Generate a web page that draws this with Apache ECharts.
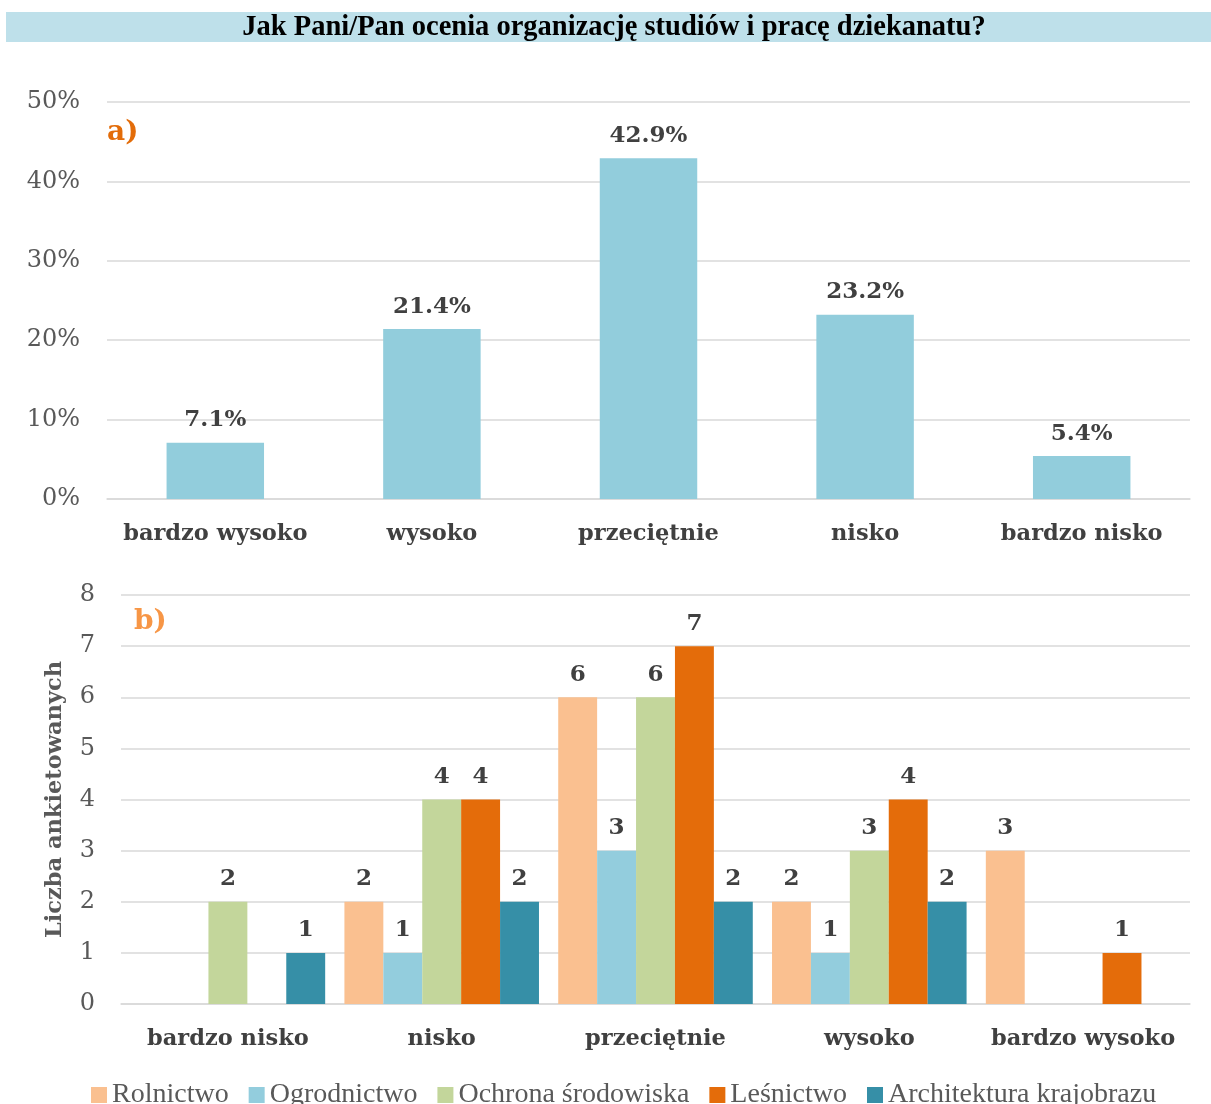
<!DOCTYPE html>
<html><head><meta charset="utf-8">
<script src="https://cdn.jsdelivr.net/npm/echarts@6/dist/echarts.min.js"></script>
<style>html,body{margin:0;padding:0;background:#fff}#c{width:1211px;height:1104px}</style>
</head><body><div id="c"></div>
<script>
const titleText = 'Jak Pani/Pan ocenia organizację studiów i pracę dziekanatu?';
const catsA = ['bardzo wysoko','wysoko','przeciętnie','nisko','bardzo nisko'];
const valsA = [7.1, 21.4, 42.9, 23.2, 5.4];
const catsB = ['bardzo nisko','nisko','przeciętnie','wysoko','bardzo wysoko'];
const seriesNames = ['Rolnictwo','Ogrodnictwo','Ochrona środowiska','Leśnictwo','Architektura krajobrazu'];
const rolnictwo = [null, 2, 6, 2, 3];
const ogrodnictwo = [null, 1, 3, 1, null];
const ochrona = [2, 4, 6, 3, null];
const lesnictwo = [null, 4, 7, 4, 1];
const architektura = [1, 2, 2, 2, null];
const colorsB = ['#FAC090','#93CDDD','#C3D69B','#E46C0A','#368FA7'];

const SERIF = '"DejaVu Serif", serif';
const gridLine = {show:true, lineStyle:{color:'#D9D9D9', width:1.5}};
const labelStyle = {show:true, position:'top', distance:11, fontFamily:SERIF, fontWeight:'bold', fontSize:23, color:'#404040'};

const chart = echarts.init(document.getElementById('c'));
const dataB = [rolnictwo, ogrodnictwo, ochrona, lesnictwo, architektura];
chart.setOption({
  animation:false,
  graphic:[
    {type:'rect', shape:{x:6,y:12,width:1205,height:30}, style:{fill:'#BEE0EA'}},
    {type:'text', x:614, y:28, style:{text:titleText, align:'center', verticalAlign:'middle', font:'bold 28.5px "Liberation Serif", serif', fill:'#000'}},
    {type:'text', x:107, y:133, style:{text:'a)', verticalAlign:'middle', font:'bold 28px '+SERIF, fill:'#E36C09'}},
    {type:'text', x:134, y:622, style:{text:'b)', verticalAlign:'middle', font:'bold 28px '+SERIF, fill:'#F79646'}}
  ],
  legend:{
    data:seriesNames, top:1076, left:86, itemWidth:16, itemHeight:16, itemGap:20,
    icon:'rect', textStyle:{fontFamily:'"Liberation Serif", serif', fontSize:28, color:'#595959'}
  },
  grid:[
    {left:107, right:21, top:102, bottom:605},
    {left:121, right:21, top:595, bottom:100}
  ],
  xAxis:[
    {type:'category', gridIndex:0, data:catsA, axisTick:{show:false}, axisLine:{lineStyle:{color:'#D9D9D9', width:1.5}},
     axisLabel:{interval:0, margin:24, fontFamily:SERIF, fontWeight:'bold', fontSize:22.5, color:'#404040'}},
    {type:'category', gridIndex:1, data:catsB, axisTick:{show:false}, axisLine:{lineStyle:{color:'#D9D9D9', width:1.5}},
     axisLabel:{interval:0, margin:24, fontFamily:SERIF, fontWeight:'bold', fontSize:22.5, color:'#404040'}}
  ],
  yAxis:[
    {type:'value', gridIndex:0, min:0, max:50, interval:10, splitLine:gridLine, axisLine:{show:false}, axisTick:{show:false},
     axisLabel:{formatter:'{value}%', margin:27, fontFamily:SERIF, fontSize:24, color:'#595959'}},
    {type:'value', gridIndex:1, min:0, max:8, interval:1, splitLine:gridLine, axisLine:{show:false}, axisTick:{show:false},
     name:'Liczba ankietowanych', nameLocation:'middle', nameGap:54, nameRotate:90,
     nameTextStyle:{fontFamily:SERIF, fontWeight:'bold', fontSize:22.5, color:'#595959'},
     axisLabel:{margin:26, fontFamily:SERIF, fontSize:24, color:'#595959'}}
  ],
  series:[
    {type:'bar', xAxisIndex:0, yAxisIndex:0, data:valsA, barWidth:'45%', itemStyle:{color:'#92CDDC'},
     label:Object.assign({}, labelStyle, {formatter:p=>p.value.toFixed(1)+'%'})}
  ].concat(seriesNames.map((n,i)=>({
    type:'bar', name:n, xAxisIndex:1, yAxisIndex:1, data:dataB[i], barGap:'0%', barCategoryGap:'9%',
    itemStyle:{color:colorsB[i]}, label:labelStyle
  })))
});
</script></body></html>
